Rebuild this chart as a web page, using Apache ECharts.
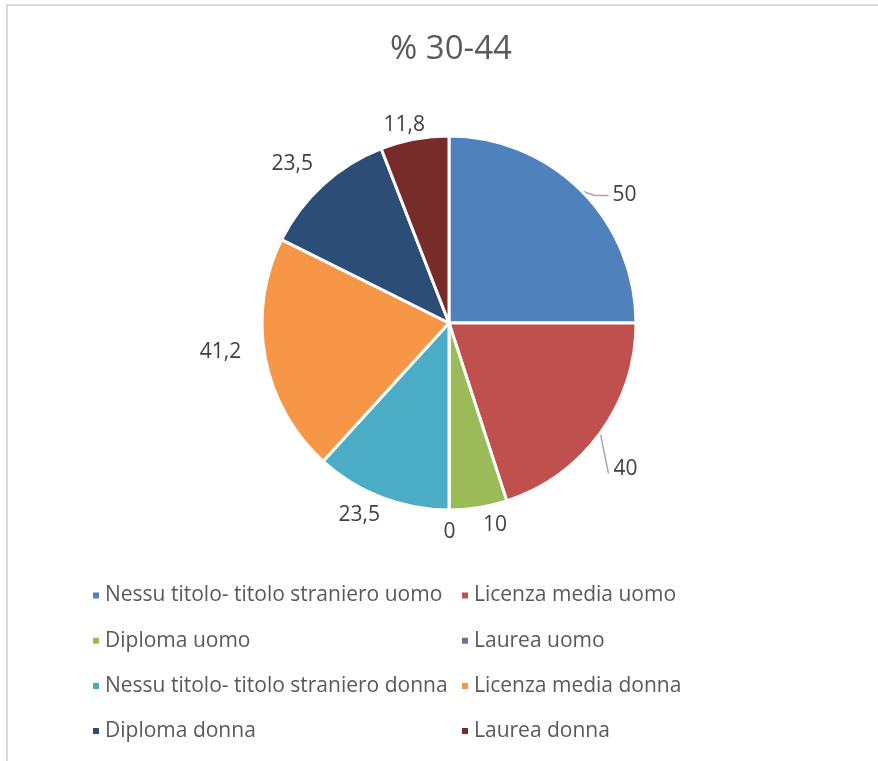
<!DOCTYPE html>
<html>
<head>
<meta charset="utf-8">
<script src="https://cdn.jsdelivr.net/npm/echarts@6/dist/echarts.min.js"></script>
<style>
html,body{margin:0;padding:0;background:#fff;}
#frame{position:absolute;left:6px;top:4px;width:872px;height:757px;border-top:2px solid #d9d9d9;border-left:2px solid #d9d9d9;box-sizing:border-box;}
#chart{position:absolute;left:0;top:0;width:878px;height:761px;}
</style>
</head>
<body>
<div id="frame"></div>
<div id="chart"></div>
<script>
const titleText = '% 30-44';
const categories = [
  'Nessu titolo- titolo straniero uomo',
  'Licenza media uomo',
  'Diploma uomo',
  'Laurea uomo',
  'Nessu titolo- titolo straniero donna',
  'Licenza media donna',
  'Diploma donna',
  'Laurea donna'
];
const values = [50, 40, 10, 0, 23.5, 41.2, 23.5, 11.8];
const labelTexts = ['50', '40', '10', '0', '23,5', '41,2', '23,5', '11,8'];

const colors = ['#4F81BD', '#C0504D', '#9BBB59', '#8064A2', '#4BACC6', '#F79646', '#2C4D75', '#772C2A'];
// per-slice label placement styling: [length, length2, distance, showLine, dx, dy]
const labelStyle = [
  [6, 22, 5, true, 0, 8],
  [25, 0, 3, true, -10, 21],
  [17, 0, 2, false, 0, 1],
  [20, 0, -5.5, false, 0, 2],
  [18, 0, -5, false, 0, 1],
  [5, 14, 5, false, 0, -6],
  [31, 0, -11, false, 0, 2],
  [16.5, 0, -13.5, false, 0, 2]
];

const data = categories.map((name, i) => ({
  name: name,
  value: values[i],
  itemStyle: { color: colors[i] },
  label: { distanceToLabelLine: labelStyle[i][2], formatter: labelTexts[i] },
  labelLine: { show: labelStyle[i][3], length: labelStyle[i][0], length2: labelStyle[i][1] }
}));

const FONT = '"Open Sans", Lato, sans-serif';
const legendText = { color: '#595959', fontSize: 21, fontFamily: FONT, lineHeight: 20 };

const chart = echarts.init(document.getElementById('chart'), null, { renderer: 'canvas' });
chart.setOption({
  backgroundColor: 'transparent',
  animation: false,
  title: {
    text: titleText,
    left: 385,
    top: 28,
    textStyle: { color: '#595959', fontSize: 33, fontWeight: 'normal', fontFamily: FONT }
  },
  legend: [
    {
      data: [categories[0], categories[2], categories[4], categories[6]],
      orient: 'vertical', left: 86, top: 580, itemGap: 24.2,
      icon: 'rect', itemWidth: 8, itemHeight: 8,
      textStyle: legendText, selectedMode: false
    },
    {
      data: [categories[1], categories[3], categories[5], categories[7]],
      orient: 'vertical', left: 455, top: 580, itemGap: 24.2,
      icon: 'rect', itemWidth: 8, itemHeight: 8,
      textStyle: legendText, selectedMode: false
    }
  ],
  series: [{
    type: 'pie',
    center: [449, 323],
    radius: 187,
    startAngle: 90,
    clockwise: true,
    avoidLabelOverlap: false,
    minShowLabelAngle: 0,
    itemStyle: { borderColor: '#fff', borderWidth: 3 },
    label: {
      show: true, position: 'outside',
      color: '#404040', fontSize: 21, fontFamily: FONT
    },
    labelLine: { lineStyle: { color: '#a6a6a6', width: 1.5 } },
    labelLayout: function (p) {
      const s = labelStyle[p.dataIndex];
      const out = { dx: s[4], dy: s[5] };
      if (s[3] && p.labelLinePoints && p.labelRect) {
        const start = p.labelLinePoints[0];
        const left = p.labelRect.x + s[4];
        const cy = p.labelRect.y + p.labelRect.height / 2 + s[5];
        if (p.dataIndex === 0) {
          out.labelLinePoints = [start, [left - 18, cy + 1], [left - 4, cy + 1]];
        } else {
          out.labelLinePoints = [start, [left - 5, cy + 5]];
        }
      }
      return out;
    },
    emphasis: { disabled: true },
    data: data
  }]
});
</script>
</body>
</html>
